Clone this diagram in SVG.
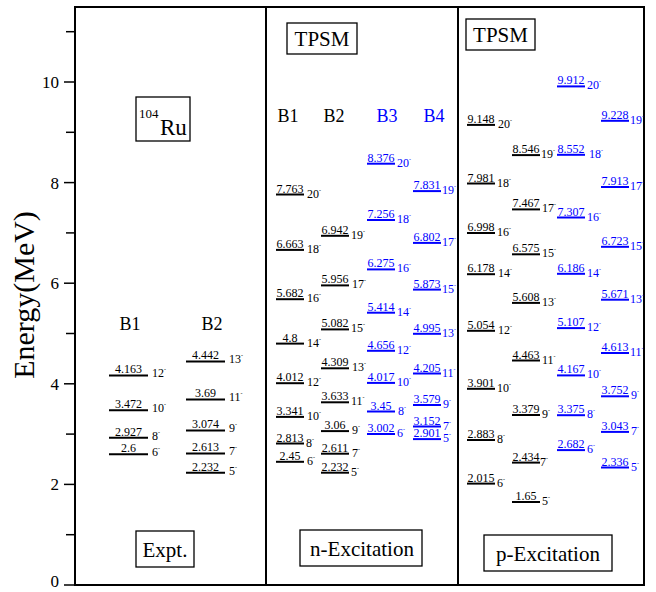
<svg xmlns="http://www.w3.org/2000/svg" width="656" height="592" viewBox="0 0 656 592">
<style>
.b text{fill:#0000ff}
.k text{fill:#000}
.k line{stroke:#000;stroke-width:2}
.b line{stroke:#0000ff;stroke-width:2}
.fr{fill:none;stroke:#000;stroke-width:2}
.bx{fill:#fff;stroke:#000;stroke-width:1.3}
.tk{stroke:#000;stroke-width:1.5}
</style>
<rect width="656" height="592" fill="#fff"/>
<g font-family="Liberation Serif, Times New Roman, serif">
<g id="frame">
<rect class="fr" x="75" y="7" width="569" height="578"/>
<line class="fr" x1="266" y1="7" x2="266" y2="585"/>
<line class="fr" x1="458" y1="7" x2="458" y2="585"/>
</g>
<g id="axis">
<g class="tk">
<line x1="64" y1="585" x2="75" y2="585"/><line x1="66" y1="534.7" x2="75" y2="534.7"/>
<line x1="64" y1="484.4" x2="75" y2="484.4"/><line x1="66" y1="434.1" x2="75" y2="434.1"/>
<line x1="64" y1="383.8" x2="75" y2="383.8"/><line x1="66" y1="333.5" x2="75" y2="333.5"/>
<line x1="64" y1="283.2" x2="75" y2="283.2"/><line x1="66" y1="232.9" x2="75" y2="232.9"/>
<line x1="64" y1="182.6" x2="75" y2="182.6"/><line x1="66" y1="132.3" x2="75" y2="132.3"/>
<line x1="64" y1="82" x2="75" y2="82"/><line x1="66" y1="31.7" x2="75" y2="31.7"/>
</g>
<g font-size="17" text-anchor="end">
<text x="59" y="587">0</text>
<text x="59" y="490">2</text>
<text x="59" y="390">4</text>
<text x="59" y="289">6</text>
<text x="59" y="189">8</text>
<text x="59" y="88">10</text>
</g>
<text x="34" y="295" font-size="30" text-anchor="middle" transform="rotate(-90 34 295)">Energy(MeV)</text>
</g>
<g id="labels">
<g id="ru"><rect class="bx" x="136" y="97" width="54" height="44"/><text x="139" y="118" font-size="13">104</text><text x="160" y="135" font-size="23">Ru</text></g>
<g font-size="21" text-anchor="middle">
<g id="tpsm-n"><rect class="bx" x="287" y="23" width="70" height="31"/><text x="322" y="46">TPSM</text></g>
<g id="tpsm-p"><rect class="bx" x="466" y="19" width="69" height="31"/><text x="500.5" y="42">TPSM</text></g>
<g id="expt"><rect class="bx" x="136" y="531" width="58" height="36"/><text x="165" y="557">Expt.</text></g>
<g id="nexc"><rect class="bx" x="300" y="530" width="122" height="36"/><text x="362" y="556">n-Excitation</text></g>
<g id="pexc"><rect class="bx" x="484" y="535" width="128" height="36"/><text x="548" y="561">p-Excitation</text></g>
</g>
<g font-size="18" text-anchor="middle">
<text x="130" y="330">B1</text>
<text x="212" y="330">B2</text>
<text x="288" y="122">B1</text>
<text x="334" y="122">B2</text>
<text x="387" y="122" fill="#0000ff">B3</text>
<text x="434" y="122" fill="#0000ff">B4</text>
</g>
</g>
<g id="levels" font-size="12">
<g id="expt-b1" class="k">
<line x1="109" x2="148" y1="454.2" y2="454.2"/><text text-anchor="middle" x="128.5" y="452">2.6</text><text x="152" y="456">6<tspan font-size="6" dy="-6">-</tspan></text>
<line x1="109" x2="148" y1="437.8" y2="437.8"/><text text-anchor="middle" x="128.5" y="435.6">2.927</text><text x="152" y="439.6">8<tspan font-size="6" dy="-6">-</tspan></text>
<line x1="109" x2="148" y1="410.3" y2="410.3"/><text text-anchor="middle" x="128.5" y="408.1">3.472</text><text x="152" y="412.1">10<tspan font-size="6" dy="-6">-</tspan></text>
<line x1="109" x2="148" y1="375.6" y2="375.6"/><text text-anchor="middle" x="128.5" y="373.4">4.163</text><text x="152" y="377.4">12<tspan font-size="6" dy="-6">-</tspan></text>
</g>
<g id="expt-b2" class="k">
<line x1="186" x2="225" y1="472.7" y2="472.7"/><text text-anchor="middle" x="205.5" y="470.5">2.232</text><text x="229" y="474.5">5<tspan font-size="6" dy="-6">-</tspan></text>
<line x1="186" x2="225" y1="453.6" y2="453.6"/><text text-anchor="middle" x="205.5" y="451.4">2.613</text><text x="229" y="455.4">7<tspan font-size="6" dy="-6">-</tspan></text>
<line x1="186" x2="225" y1="430.4" y2="430.4"/><text text-anchor="middle" x="205.5" y="428.2">3.074</text><text x="229" y="432.2">9<tspan font-size="6" dy="-6">-</tspan></text>
<line x1="186" x2="225" y1="399.4" y2="399.4"/><text text-anchor="middle" x="205.5" y="397.2">3.69</text><text x="229" y="401.2">11<tspan font-size="6" dy="-6">-</tspan></text>
<line x1="186" x2="225" y1="361.6" y2="361.6"/><text text-anchor="middle" x="205.5" y="359.4">4.442</text><text x="229" y="363.4">13<tspan font-size="6" dy="-6">-</tspan></text>
</g>
<g id="n-b1" class="k">
<line x1="276" x2="304" y1="461.8" y2="461.8"/><text text-anchor="middle" x="290" y="459.8">2.45</text><text x="307" y="464.8">6<tspan font-size="6" dy="-6">-</tspan></text>
<line x1="276" x2="304" y1="443.5" y2="443.5"/><text text-anchor="middle" x="290" y="441.5">2.813</text><text x="306" y="446.5">8<tspan font-size="6" dy="-6">-</tspan></text>
<line x1="276" x2="304" y1="416.9" y2="416.9"/><text text-anchor="middle" x="290" y="414.9">3.341</text><text x="307" y="419.9">10<tspan font-size="6" dy="-6">-</tspan></text>
<line x1="276" x2="304" y1="383.2" y2="383.2"/><text text-anchor="middle" x="290" y="381.2">4.012</text><text x="307" y="386.2">12<tspan font-size="6" dy="-6">-</tspan></text>
<line x1="276" x2="304" y1="343.6" y2="343.6"/><text text-anchor="middle" x="290" y="341.6">4.8</text><text x="307" y="346.6">14<tspan font-size="6" dy="-6">-</tspan></text>
<line x1="276" x2="304" y1="299.2" y2="299.2"/><text text-anchor="middle" x="290" y="297.2">5.682</text><text x="307" y="302.2">16<tspan font-size="6" dy="-6">-</tspan></text>
<line x1="276" x2="304" y1="249.9" y2="249.9"/><text text-anchor="middle" x="290" y="247.9">6.663</text><text x="307" y="252.9">18<tspan font-size="6" dy="-6">-</tspan></text>
<line x1="276" x2="304" y1="194.5" y2="194.5"/><text text-anchor="middle" x="290" y="192.5">7.763</text><text x="307" y="197.5">20<tspan font-size="6" dy="-6">-</tspan></text>
</g>
<g id="n-b2" class="k">
<line x1="321" x2="349" y1="472.7" y2="472.7"/><text text-anchor="middle" x="335" y="470.7">2.232</text><text x="351" y="475.7">5<tspan font-size="6" dy="-6">-</tspan></text>
<line x1="321" x2="349" y1="453.7" y2="453.7"/><text text-anchor="middle" x="335" y="451.7">2.611</text><text x="352" y="456.7">7<tspan font-size="6" dy="-6">-</tspan></text>
<line x1="321" x2="349" y1="431.1" y2="431.1"/><text text-anchor="middle" x="335" y="429.1">3.06</text><text x="352" y="434.1">9<tspan font-size="6" dy="-6">-</tspan></text>
<line x1="321" x2="349" y1="402.3" y2="402.3"/><text text-anchor="middle" x="335" y="400.3">3.633</text><text x="351" y="405.3">11<tspan font-size="6" dy="-6">-</tspan></text>
<line x1="321" x2="349" y1="368.3" y2="368.3"/><text text-anchor="middle" x="335" y="366.3">4.309</text><text x="352" y="371.3">13<tspan font-size="6" dy="-6">-</tspan></text>
<line x1="321" x2="349" y1="329.4" y2="329.4"/><text text-anchor="middle" x="335" y="327.4">5.082</text><text x="351" y="332.4">15<tspan font-size="6" dy="-6">-</tspan></text>
<line x1="321" x2="349" y1="285.4" y2="285.4"/><text text-anchor="middle" x="335" y="283.4">5.956</text><text x="352" y="288.4">17<tspan font-size="6" dy="-6">-</tspan></text>
<line x1="321" x2="349" y1="235.8" y2="235.8"/><text text-anchor="middle" x="335" y="233.8">6.942</text><text x="351" y="238.8">19<tspan font-size="6" dy="-6">-</tspan></text>
</g>
<g id="n-b3" class="b">
<line x1="367" x2="395" y1="434.0" y2="434.0"/><text text-anchor="middle" x="381" y="432">3.002</text><text x="397" y="437">6<tspan font-size="6" dy="-6">-</tspan></text>
<line x1="367" x2="395" y1="411.5" y2="411.5"/><text text-anchor="middle" x="381" y="409.5">3.45</text><text x="398" y="414.5">8<tspan font-size="6" dy="-6">-</tspan></text>
<line x1="367" x2="395" y1="382.9" y2="382.9"/><text text-anchor="middle" x="381" y="380.9">4.017</text><text x="397" y="385.9">10<tspan font-size="6" dy="-6">-</tspan></text>
<line x1="367" x2="395" y1="350.8" y2="350.8"/><text text-anchor="middle" x="381" y="348.8">4.656</text><text x="397" y="353.8">12<tspan font-size="6" dy="-6">-</tspan></text>
<line x1="367" x2="395" y1="312.7" y2="312.7"/><text text-anchor="middle" x="381" y="310.7">5.414</text><text x="397" y="315.7">14<tspan font-size="6" dy="-6">-</tspan></text>
<line x1="367" x2="395" y1="269.4" y2="269.4"/><text text-anchor="middle" x="381" y="267.4">6.275</text><text x="397" y="272.4">16<tspan font-size="6" dy="-6">-</tspan></text>
<line x1="367" x2="395" y1="220.0" y2="220.0"/><text text-anchor="middle" x="381" y="218">7.256</text><text x="397" y="223">18<tspan font-size="6" dy="-6">-</tspan></text>
<line x1="367" x2="395" y1="163.7" y2="163.7"/><text text-anchor="middle" x="381" y="161.7">8.376</text><text x="397" y="166.7">20<tspan font-size="6" dy="-6">-</tspan></text>
</g>
<g id="n-b4" class="b">
<line x1="413" x2="441" y1="439.1" y2="439.1"/><text text-anchor="middle" x="427" y="437.1">2.901</text><text x="443" y="442.1">5<tspan font-size="6" dy="-6">-</tspan></text>
<line x1="413" x2="441" y1="426.5" y2="426.5"/><text text-anchor="middle" x="427" y="424.5">3.152</text><text x="443" y="429.5">7<tspan font-size="6" dy="-6">-</tspan></text>
<line x1="413" x2="441" y1="405.0" y2="405.0"/><text text-anchor="middle" x="427" y="403">3.579</text><text x="443" y="408">9<tspan font-size="6" dy="-6">-</tspan></text>
<line x1="413" x2="441" y1="373.5" y2="373.5"/><text text-anchor="middle" x="427" y="371.5">4.205</text><text x="442" y="376.5">11<tspan font-size="6" dy="-6">-</tspan></text>
<line x1="413" x2="441" y1="333.8" y2="333.8"/><text text-anchor="middle" x="427" y="331.8">4.995</text><text x="442" y="336.8">13<tspan font-size="6" dy="-6">-</tspan></text>
<line x1="413" x2="441" y1="289.6" y2="289.6"/><text text-anchor="middle" x="427" y="287.6">5.873</text><text x="442" y="292.6">15<tspan font-size="6" dy="-6">-</tspan></text>
<line x1="413" x2="441" y1="242.9" y2="242.9"/><text text-anchor="middle" x="427" y="240.9">6.802</text><text x="442" y="245.9">17<tspan font-size="6" dy="-6">-</tspan></text>
<line x1="413" x2="441" y1="191.1" y2="191.1"/><text text-anchor="middle" x="427" y="189.1">7.831</text><text x="442" y="194.1">19<tspan font-size="6" dy="-6">-</tspan></text>
</g>
<g id="p-b1" class="k">
<line x1="467" x2="495" y1="483.6" y2="483.6"/><text text-anchor="middle" x="481" y="481.6">2.015</text><text x="497" y="486.6">6<tspan font-size="6" dy="-6">-</tspan></text>
<line x1="467" x2="495" y1="440.0" y2="440.0"/><text text-anchor="middle" x="481" y="438">2.883</text><text x="497" y="443">8<tspan font-size="6" dy="-6">-</tspan></text>
<line x1="467" x2="495" y1="388.8" y2="388.8"/><text text-anchor="middle" x="481" y="386.8">3.901</text><text x="497" y="391.8">10<tspan font-size="6" dy="-6">-</tspan></text>
<line x1="467" x2="495" y1="330.8" y2="330.8"/><text text-anchor="middle" x="481" y="328.8">5.054</text><text x="498" y="333.8">12<tspan font-size="6" dy="-6">-</tspan></text>
<line x1="467" x2="495" y1="274.2" y2="274.2"/><text text-anchor="middle" x="481" y="272.2">6.178</text><text x="498" y="277.2">14<tspan font-size="6" dy="-6">-</tspan></text>
<line x1="467" x2="495" y1="233.0" y2="233.0"/><text text-anchor="middle" x="481" y="231">6.998</text><text x="497" y="236">16<tspan font-size="6" dy="-6">-</tspan></text>
<line x1="467" x2="495" y1="183.5" y2="183.5"/><text text-anchor="middle" x="481" y="181.5">7.981</text><text x="497" y="186.5">18<tspan font-size="6" dy="-6">-</tspan></text>
<line x1="467" x2="495" y1="124.9" y2="124.9"/><text text-anchor="middle" x="481" y="122.9">9.148</text><text x="498" y="127.9">20<tspan font-size="6" dy="-6">-</tspan></text>
</g>
<g id="p-b2" class="k">
<line x1="512" x2="540" y1="502.0" y2="502.0"/><text text-anchor="middle" x="526" y="500">1.65</text><text x="542" y="505">5<tspan font-size="6" dy="-6">-</tspan></text>
<line x1="512" x2="540" y1="462.6" y2="462.6"/><text text-anchor="middle" x="526" y="460.6">2.434</text><text x="540" y="465.6">7<tspan font-size="6" dy="-6">-</tspan></text>
<line x1="512" x2="540" y1="415.0" y2="415.0"/><text text-anchor="middle" x="526" y="413">3.379</text><text x="542" y="418">9<tspan font-size="6" dy="-6">-</tspan></text>
<line x1="512" x2="540" y1="360.5" y2="360.5"/><text text-anchor="middle" x="526" y="358.5">4.463</text><text x="542" y="363.5">11<tspan font-size="6" dy="-6">-</tspan></text>
<line x1="512" x2="540" y1="302.9" y2="302.9"/><text text-anchor="middle" x="526" y="300.9">5.608</text><text x="542" y="305.9">13<tspan font-size="6" dy="-6">-</tspan></text>
<line x1="512" x2="540" y1="254.3" y2="254.3"/><text text-anchor="middle" x="526" y="252.3">6.575</text><text x="542" y="257.3">15<tspan font-size="6" dy="-6">-</tspan></text>
<line x1="512" x2="540" y1="209.4" y2="209.4"/><text text-anchor="middle" x="526" y="207.4">7.467</text><text x="542" y="212.4">17<tspan font-size="6" dy="-6">-</tspan></text>
<line x1="512" x2="540" y1="155.1" y2="155.1"/><text text-anchor="middle" x="526" y="153.1">8.546</text><text x="541" y="158.1">19<tspan font-size="6" dy="-6">-</tspan></text>
</g>
<g id="p-b3" class="b">
<line x1="557" x2="585" y1="450.1" y2="450.1"/><text text-anchor="middle" x="571" y="448.1">2.682</text><text x="587" y="453.1">6<tspan font-size="6" dy="-6">-</tspan></text>
<line x1="557" x2="585" y1="415.2" y2="415.2"/><text text-anchor="middle" x="571" y="413.2">3.375</text><text x="587" y="418.2">8<tspan font-size="6" dy="-6">-</tspan></text>
<line x1="557" x2="585" y1="375.4" y2="375.4"/><text text-anchor="middle" x="571" y="373.4">4.167</text><text x="587" y="378.4">10<tspan font-size="6" dy="-6">-</tspan></text>
<line x1="557" x2="585" y1="328.1" y2="328.1"/><text text-anchor="middle" x="571" y="326.1">5.107</text><text x="587" y="331.1">12<tspan font-size="6" dy="-6">-</tspan></text>
<line x1="557" x2="585" y1="273.8" y2="273.8"/><text text-anchor="middle" x="571" y="271.8">6.186</text><text x="587" y="276.8">14<tspan font-size="6" dy="-6">-</tspan></text>
<line x1="557" x2="585" y1="217.5" y2="217.5"/><text text-anchor="middle" x="571" y="215.5">7.307</text><text x="587" y="220.5">16<tspan font-size="6" dy="-6">-</tspan></text>
<line x1="557" x2="585" y1="154.8" y2="154.8"/><text text-anchor="middle" x="571" y="152.8">8.552</text><text x="589" y="157.8">18<tspan font-size="6" dy="-6">-</tspan></text>
<line x1="557" x2="585" y1="86.4" y2="86.4"/><text text-anchor="middle" x="571" y="84.4">9.912</text><text x="587" y="89.4">20<tspan font-size="6" dy="-6">-</tspan></text>
</g>
<g id="p-b4" class="b">
<line x1="601" x2="629" y1="467.5" y2="467.5"/><text text-anchor="middle" x="615" y="465.5">2.336</text><text x="631" y="470.5">5<tspan font-size="6" dy="-6">-</tspan></text>
<line x1="601" x2="629" y1="431.9" y2="431.9"/><text text-anchor="middle" x="615" y="429.9">3.043</text><text x="631" y="434.9">7<tspan font-size="6" dy="-6">-</tspan></text>
<line x1="601" x2="629" y1="396.3" y2="396.3"/><text text-anchor="middle" x="615" y="394.3">3.752</text><text x="631" y="399.3">9<tspan font-size="6" dy="-6">-</tspan></text>
<line x1="601" x2="629" y1="353.0" y2="353.0"/><text text-anchor="middle" x="615" y="351">4.613</text><text x="630" y="356">11<tspan font-size="6" dy="-6">-</tspan></text>
<line x1="601" x2="629" y1="299.7" y2="299.7"/><text text-anchor="middle" x="615" y="297.7">5.671</text><text x="630" y="302.7">13<tspan font-size="6" dy="-6">-</tspan></text>
<line x1="601" x2="629" y1="246.8" y2="246.8"/><text text-anchor="middle" x="615" y="244.8">6.723</text><text x="630" y="249.8">15<tspan font-size="6" dy="-6">-</tspan></text>
<line x1="601" x2="629" y1="187.0" y2="187.0"/><text text-anchor="middle" x="615" y="185">7.913</text><text x="630" y="190">17<tspan font-size="6" dy="-6">-</tspan></text>
<line x1="601" x2="629" y1="120.8" y2="120.8"/><text text-anchor="middle" x="615" y="118.8">9.228</text><text x="630" y="123.8">19<tspan font-size="6" dy="-6">-</tspan></text>
</g>
</g>
</g>
</svg>
